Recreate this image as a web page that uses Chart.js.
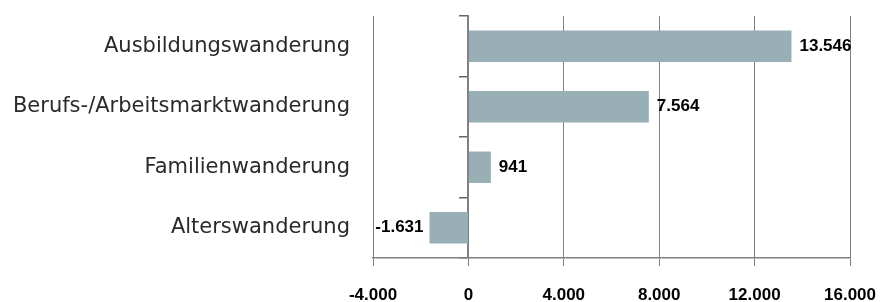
<!DOCTYPE html>
<html>
<head>
<meta charset="utf-8">
<script src="https://cdn.jsdelivr.net/npm/chart.js@4.4.1/dist/chart.umd.min.js"></script>
<style>
    html, body { margin: 0; padding: 0; background: #fff; }
    #wrap { width: 880px; height: 302px; position: relative; }
</style>
</head>
<body>
<div id="wrap"><canvas id="migrationChart"></canvas></div>
<script>
const categories = ['Ausbildungswanderung', 'Berufs-/Arbeitsmarktwanderung', 'Familienwanderung', 'Alterswanderung'];
const balances = [13546, 7564, 941, -1631];
const xTicks = [-4000, 0, 4000, 8000, 12000, 16000];

const gridGray = '#808080';
const barColor = '#98afb5';
const labelFont = { family: '"DejaVu Sans", sans-serif', size: 21, weight: 'normal' };
const boldFont = { family: '"Liberation Sans", Arial, sans-serif', size: 17, weight: 'bold' };

// no extra room for overhanging tick labels, the plot area is set by layout padding
function noPadding(scale) {
    scale.paddingTop = 0;
    scale.paddingBottom = 0;
    scale.paddingLeft = 0;
    scale.paddingRight = 0;
}

// Draw the value next to each bar end (left of negative bars)
const valueLabels = {
    id: 'valueLabels',
    afterDatasetsDraw(chart) {
        const ctx = chart.ctx;
        const meta = chart.getDatasetMeta(0);
        ctx.save();
        ctx.font = `bold ${boldFont.size}px ${boldFont.family}`;
        ctx.fillStyle = '#000';
        ctx.textBaseline = 'middle';
        meta.data.forEach((bar, i) => {
            const v = balances[i];
            const text = v.toLocaleString('de-DE');
            if (v < 0) {
                ctx.textAlign = 'right';
                ctx.fillText(text, bar.x - 6, bar.y);
            } else {
                ctx.textAlign = 'left';
                ctx.fillText(text, bar.x + 8, bar.y);
            }
        });
        ctx.restore();
    }
};

new Chart(document.getElementById('migrationChart'), {
    type: 'bar',
    data: {
        labels: categories,
        datasets: [{
            data: balances,
            backgroundColor: barColor,
            barPercentage: 0.52,
            categoryPercentage: 1,
            yAxisID: 'y'
        }]
    },
    options: {
        indexAxis: 'y',
        responsive: true,
        maintainAspectRatio: false,
        animation: false,
        layout: { padding: { top: 16, right: 30, left: 0, bottom: 0 } },
        plugins: {
            legend: { display: false },
            tooltip: { enabled: false }
        },
        scales: {
            x: {
                type: 'linear',
                position: 'bottom',
                min: -4000,
                max: 16000,
                afterBuildTicks: scale => { scale.ticks = xTicks.map(v => ({ value: v })); },
                afterFit: scale => { scale.height = 44; noPadding(scale); },
                grid: { color: gridGray, lineWidth: 1, tickLength: 8, tickColor: gridGray },
                border: { color: gridGray, width: 1.5 },
                ticks: {
                    color: '#000',
                    font: boldFont,
                    padding: 19,
                    maxRotation: 0,
                    callback: value => value.toLocaleString('de-DE')
                }
            },
            y: {
                position: 'left',
                afterFit: scale => { scale.width = 373; noPadding(scale); },
                grid: { display: false, drawTicks: false },
                border: { display: false },
                ticks: { color: '#2a2a2a', font: labelFont, padding: 23 }
            },
            // category axis sitting on the zero line, only for its tick marks
            zero: {
                type: 'category',
                axis: 'y',
                position: { x: 0 },
                offset: true,
                afterFit: noPadding,
                grid: { offset: true, drawOnChartArea: false, tickLength: 8, color: '#666', lineWidth: 1.5 },
                border: { color: gridGray, width: 2 },
                ticks: { display: false }
            }
        }
    },
    plugins: [valueLabels]
});
</script>
</body>
</html>
